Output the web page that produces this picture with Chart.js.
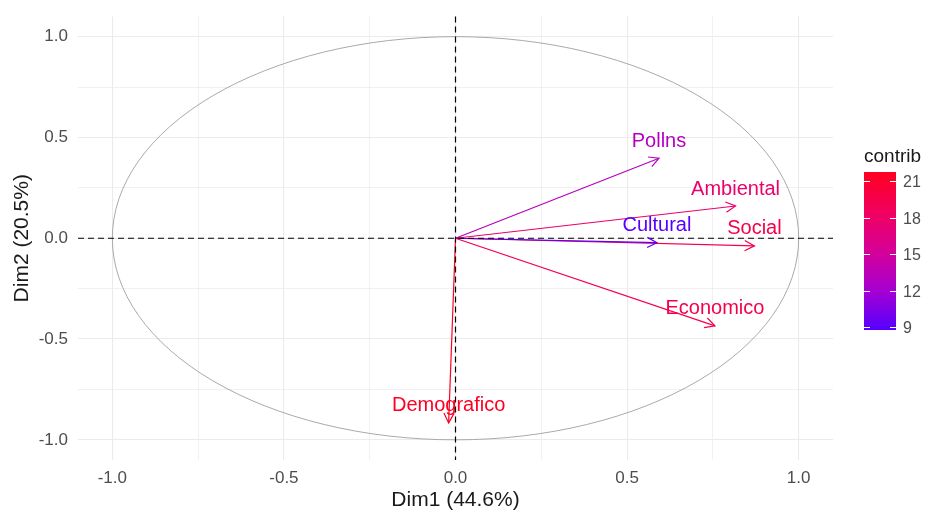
<!DOCTYPE html>
<html>
<head>
<meta charset="utf-8">
<script src="https://cdn.jsdelivr.net/npm/chart.js@4.4.1/dist/chart.umd.min.js"></script>
<style>
  html, body { margin: 0; padding: 0; background: #ffffff; }
  #wrap { width: 925px; height: 513px; }
</style>
</head>
<body>
<div id="wrap"><canvas id="pca" width="925" height="513"></canvas></div>
<script>
// Variables of the PCA and their coordinates on the first two dimensions
const variables   = ['Pollns', 'Ambiental', 'Cultural', 'Social', 'Economico', 'Demografico'];
const dim1        = [0.593, 0.816, 0.587, 0.871, 0.756, -0.020];
const dim2        = [0.397, 0.160, -0.022, -0.038, -0.435, -0.916];
// Contribution (%) of each variable to Dim1-Dim2
const contrib     = [13.0, 17.7, 8.8, 19.5, 19.4, 21.6];

// Axis ticks
const majorTicks      = [-1.0, -0.5, 0.0, 0.5, 1.0];
const majorTickLabels = ['-1.0', '-0.5', '0.0', '0.5', '1.0'];
const minorTicks      = [-0.75, -0.25, 0.25, 0.75];
const xTitle = 'Dim1 (44.6%)';
const yTitle = 'Dim2 (20.5%)';

// Colour bar
const legendTitle  = 'contrib';
const legendTicks  = [9, 12, 15, 18, 21];
const legendRange  = [8.75, 21.75];

const FONT = '"Liberation Sans", Arial, Helvetica, sans-serif';

// colour scale: violet-blue -> purple -> magenta -> red
const colorStops = [
  [0.00, [86, 0, 255]],
  [0.25, [166, 0, 210]],
  [0.50, [214, 0, 150]],
  [0.75, [242, 0, 94]],
  [1.00, [255, 0, 32]]
];
function scaleColor(v) {
  let t = (v - legendRange[0]) / (legendRange[1] - legendRange[0]);
  t = Math.max(0, Math.min(1, t));
  for (let i = 1; i < colorStops.length; i++) {
    const [t1, c1] = colorStops[i];
    const [t0, c0] = colorStops[i - 1];
    if (t <= t1) {
      const f = (t - t0) / (t1 - t0);
      const c = c0.map((a, k) => Math.round(a + (c1[k] - a) * f));
      return `rgb(${c[0]},${c[1]},${c[2]})`;
    }
  }
  const c = colorStops[colorStops.length - 1][1];
  return `rgb(${c[0]},${c[1]},${c[2]})`;
}

const gridValues = majorTicks.concat(minorTicks).sort((a, b) => a - b);
function isMajor(v) { return majorTicks.some(m => Math.abs(m - v) < 1e-9); }
function tickLabel(v) {
  const i = majorTicks.findIndex(m => Math.abs(m - v) < 1e-9);
  return i >= 0 ? majorTickLabels[i] : '';
}

const datasets = variables.map((name, i) => ({
  label: name,
  data: [{ x: 0, y: 0 }, { x: dim1[i], y: dim2[i] }],
  showLine: true,
  borderColor: scaleColor(contrib[i]),
  borderWidth: 1.2,
  pointRadius: 0,
  pointHoverRadius: 0,
  fill: false
}));

// Correlation circle, zero lines, arrow heads, labels and colour bar
const pcaDecor = {
  id: 'pcaDecor',
  beforeDatasetsDraw(chart) {
    const { ctx, scales: { x, y } } = chart;
    const cx = x.getPixelForValue(0), cy = y.getPixelForValue(0);
    const rx = x.getPixelForValue(1) - cx, ry = cy - y.getPixelForValue(1);
    ctx.save();
    ctx.strokeStyle = '#a9a9a9';
    ctx.lineWidth = 1;
    ctx.beginPath();
    ctx.ellipse(cx, cy, rx, ry, 0, 0, Math.PI * 2);
    ctx.stroke();
    ctx.restore();
  },
  afterDatasetsDraw(chart) {
    const { ctx, chartArea: a, scales: { x, y } } = chart;
    const cx = x.getPixelForValue(0), cy = y.getPixelForValue(0);
    ctx.save();
    // dashed zero lines
    ctx.strokeStyle = '#000000';
    ctx.lineWidth = 1.2;
    ctx.setLineDash([6, 4]);
    ctx.beginPath();
    ctx.moveTo(a.left, cy); ctx.lineTo(a.right, cy);
    ctx.moveTo(cx, a.top); ctx.lineTo(cx, a.bottom);
    ctx.stroke();
    ctx.setLineDash([]);

    // arrow heads and labels
    chart.data.datasets.forEach((ds, i) => {
      const pts = chart.getDatasetMeta(i).data;
      const p0 = pts[0], p1 = pts[1];
      const ang = Math.atan2(p1.y - p0.y, p1.x - p0.x);
      const len = 11, spread = Math.PI / 6.5;
      ctx.strokeStyle = ds.borderColor;
      ctx.lineWidth = 1.2;
      ctx.beginPath();
      ctx.moveTo(p1.x - len * Math.cos(ang - spread), p1.y - len * Math.sin(ang - spread));
      ctx.lineTo(p1.x, p1.y);
      ctx.lineTo(p1.x - len * Math.cos(ang + spread), p1.y - len * Math.sin(ang + spread));
      ctx.stroke();

      ctx.fillStyle = ds.borderColor;
      ctx.font = '20px ' + FONT;
      ctx.textAlign = 'center';
      ctx.textBaseline = 'middle';
      ctx.fillText(ds.label, p1.x, p1.y - 17);
    });

    // colour bar legend
    const barX = 864, barW = 32, barTop = 172, barBot = 330;
    const vy = v => barBot - (v - legendRange[0]) / (legendRange[1] - legendRange[0]) * (barBot - barTop);
    const g = ctx.createLinearGradient(0, barBot, 0, barTop);
    colorStops.forEach(([t, c]) => g.addColorStop(t, `rgb(${c[0]},${c[1]},${c[2]})`));
    ctx.fillStyle = g;
    ctx.fillRect(barX, barTop, barW, barBot - barTop);
    ctx.strokeStyle = '#ffffff';
    ctx.lineWidth = 1;
    ctx.fillStyle = '#4d4d4d';
    ctx.font = '16px ' + FONT;
    ctx.textAlign = 'left';
    ctx.textBaseline = 'middle';
    legendTicks.forEach(v => {
      const ty = Math.round(vy(v)) + 0.5;
      ctx.beginPath();
      ctx.moveTo(barX, ty); ctx.lineTo(barX + 6, ty);
      ctx.moveTo(barX + barW - 6, ty); ctx.lineTo(barX + barW, ty);
      ctx.stroke();
      ctx.fillText(String(v), 903, ty + 1);
    });
    ctx.fillStyle = '#1a1a1a';
    ctx.font = '19px ' + FONT;
    ctx.fillText(legendTitle, 864, 157);
    ctx.restore();
  }
};

function gridColor(c) { return '#ebebeb'; }
function gridWidth(c) { return c.tick && isMajor(c.tick.value) ? 1.1 : 0.7; }

new Chart(document.getElementById('pca'), {
  type: 'scatter',
  data: { datasets },
  options: {
    responsive: false,
    animation: false,
    events: [],
    layout: { padding: { top: 16.5, right: 92, bottom: 0, left: 0 } },
    plugins: { legend: { display: false }, tooltip: { enabled: false } },
    scales: {
      x: {
        type: 'linear', min: -1.1, max: 1.1,
        afterBuildTicks: s => { s.ticks = gridValues.map(v => ({ value: v })); },
        afterFit: s => { s.height = 53; },
        border: { display: false },
        grid: { color: gridColor, lineWidth: gridWidth, drawTicks: false },
        ticks: {
          callback: v => tickLabel(v), autoSkip: false, maxRotation: 0, padding: 8,
          color: '#4d4d4d', font: { family: FONT, size: 17 }
        },
        title: {
          display: true, text: xTitle, color: '#1a1a1a',
          font: { family: FONT, size: 21 }, padding: { top: 0, bottom: 0 }
        }
      },
      y: {
        type: 'linear', min: -1.1, max: 1.1,
        afterBuildTicks: s => { s.ticks = gridValues.map(v => ({ value: v })); },
        afterFit: s => { s.width = 78; s.paddingTop = 0; s.paddingBottom = 0; },
        border: { display: false },
        grid: { color: gridColor, lineWidth: gridWidth, drawTicks: false },
        ticks: {
          callback: v => tickLabel(v), autoSkip: false, padding: 10,
          color: '#4d4d4d', font: { family: FONT, size: 17 }
        },
        title: {
          display: true, text: yTitle, color: '#1a1a1a',
          font: { family: FONT, size: 21 }, padding: { top: 10, bottom: 0 }
        }
      }
    }
  },
  plugins: [pcaDecor]
});
</script>
</body>
</html>
